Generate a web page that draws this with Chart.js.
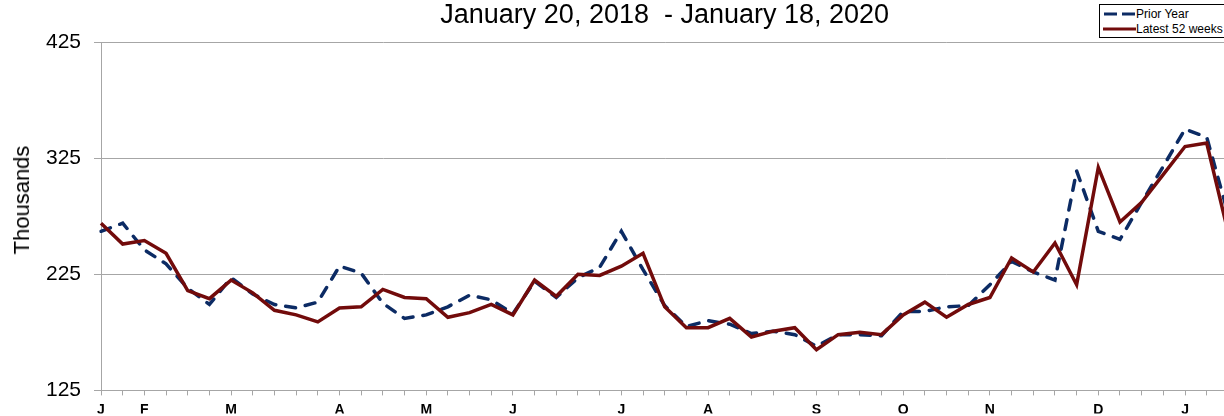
<!DOCTYPE html>
<html>
<head>
<meta charset="utf-8">
<script src="https://cdn.jsdelivr.net/npm/chart.js@4.4.1/dist/chart.umd.min.js"></script>
<style>
  body { margin: 0; overflow: hidden; background: #fff; font-family: "Liberation Sans", Arial, sans-serif; }
  #wrap { position: relative; width: 1240px; height: 416px; }
  #yTitle { position: absolute; left: 22px; top: 200px; transform: translate(-50%, -50%) rotate(-90deg);
            font-size: 22px; color: #000; white-space: nowrap; }
  #legend { position: absolute; left: 1099px; top: 4px; width: 150px; height: 31px; border: 1px solid #000;
            background: #fff; font-size: 12px; color: #000; padding-top: 1px; }
  #legend .row { display: flex; align-items: center; height: 15px; white-space: nowrap; }
  #legend svg { margin-left: 3px; flex: none; }
</style>
</head>
<body>
<div id="wrap">
  <canvas id="salesChart"></canvas>
  <div id="yTitle">Thousands</div>
  <div id="legend">
    <div class="row"><svg width="33" height="6"><line x1="1" y1="3" x2="32" y2="3" stroke="#0c2b64" stroke-width="3" stroke-dasharray="13 5"/></svg>Prior Year</div>
    <div class="row"><svg width="33" height="6"><line x1="0" y1="3" x2="33" y2="3" stroke="#720b0b" stroke-width="3"/></svg>Latest 52 weeks</div>
  </div>
</div>
<script>
// weekly tick labels, month letter on the first week of each month
const weekLabels = ['J', '', 'F', '', '', '', 'M', '', '', '', '', 'A', '', '', '', 'M', '', '', '', 'J', '', '', '', '',
    'J', '', '', '', 'A', '', '', '', '', 'S', '', '', '', 'O', '', '', '', 'N', '', '', '', '', 'D', '', '', '', 'J', '', ''];

// values in thousands
const latest52Weeks = [269, 251, 254, 243, 211, 204, 220, 209, 194, 190, 184, 196, 197, 212, 205, 204, 188, 192, 199, 190,
    220, 206, 225, 224, 232, 243, 197, 179, 179, 187, 171, 176, 179, 160, 173, 175, 173, 190, 201, 188,
    199, 205, 239, 227, 252, 216, 317, 270, 287, 311, 335, 338, 260];

const priorYear = [262, 269, 246, 234, 213, 199, 222, 208, 199, 196, 201, 232, 226, 200, 187, 190, 197, 207, 203, 191,
    219, 205, 222, 231, 262, 229, 198, 180, 185, 182, 174, 176, 173, 163, 173, 173, 172, 193, 193, 197,
    198, 216, 236, 227, 220, 314, 262, 255, 287, 318, 350, 343, 276];

const yTicks = { min: 125, max: 425, step: 100 };

const fontFamily = '"Liberation Sans", Arial, sans-serif';
Chart.defaults.font.family = fontFamily;

const ctx = document.getElementById('salesChart').getContext('2d');
new Chart(ctx, {
    type: 'line',
    data: {
        labels: weekLabels,
        datasets: [{
            label: 'Latest 52 weeks',
            data: latest52Weeks,
            borderColor: '#720b0b',
            borderWidth: 3.5,
            pointRadius: 0,
            tension: 0
        }, {
            label: 'Prior Year',
            data: priorYear,
            borderColor: '#0c2b64',
            borderWidth: 3.5,
            borderDash: [10, 10],
            borderCapStyle: 'round',
            pointRadius: 0,
            tension: 0
        }]
    },
    options: {
        responsive: true,
        maintainAspectRatio: false,
        animation: false,
        layout: { padding: { left: 0, right: 11.6, top: 0, bottom: 0 } },
        plugins: {
            legend: { display: false },
            tooltip: { enabled: false },
            title: {
                display: true,
                fullSize: false,
                text: 'January 20, 2018  - January 18, 2020',
                color: '#000',
                font: { size: 27, weight: 'normal', lineHeight: 1.15 },
                padding: { top: 0, bottom: 10.95 }
            }
        },
        scales: {
            x: {
                grid: { drawOnChartArea: false, tickLength: 5, color: '#a6a6a6' },
                border: { color: '#a6a6a6' },
                ticks: { autoSkip: false, maxRotation: 0, padding: 6, color: '#000',
                         font: { size: 14, weight: 'bold' } },
                afterFit: function(scale) { scale.height = 23; }
            },
            y: {
                min: yTicks.min,
                max: yTicks.max,
                ticks: { stepSize: yTicks.step, padding: 13, color: '#000', font: { size: 21 } },
                grid: { color: '#a6a6a6', tickLength: 7 },
                border: { color: '#a6a6a6' },
                afterFit: function(scale) { scale.width = 101; }
            }
        }
    }
});
</script>
</body>
</html>
